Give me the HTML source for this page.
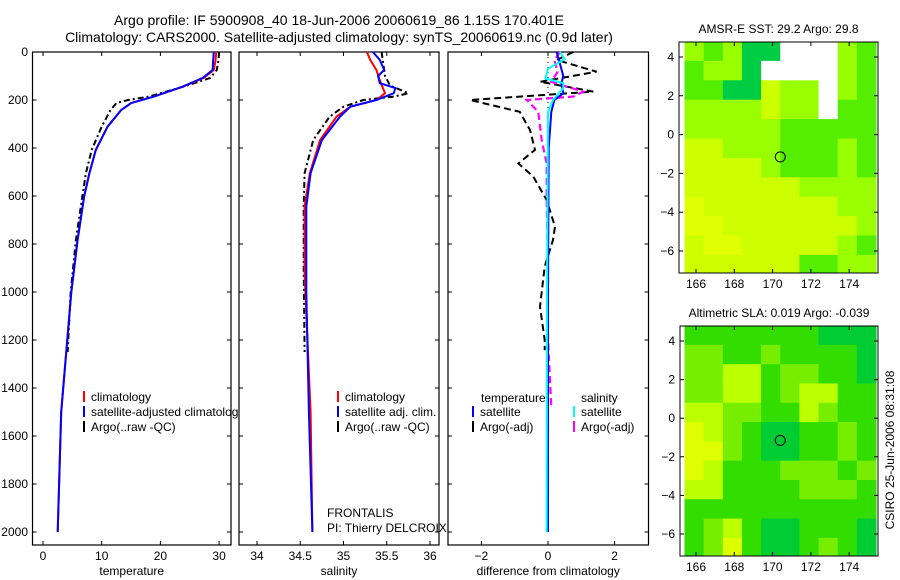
<!DOCTYPE html>
<html><head><meta charset="utf-8"><style>
html,body{margin:0;padding:0;background:#fff;}
svg{display:block;font-family:"Liberation Sans",sans-serif;}
</style></head><body>
<svg id="fig" width="900" height="580" viewBox="0 0 900 580" xmlns="http://www.w3.org/2000/svg">
<rect width="900" height="580" fill="#fff"/>
<text x="339" y="25" font-size="14" text-anchor="middle">Argo profile: IF 5900908_40 18-Jun-2006 20060619_86 1.15S 170.401E</text>
<text x="339" y="42" font-size="14" text-anchor="middle">Climatology: CARS2000. Satellite-adjusted climatology: synTS_20060619.nc (0.9d later)</text>
<g id="g1"></g>
<g id="g2"></g>
<g id="g3"></g>
<g id="m1"></g>
<g id="m2"></g>
<text transform="translate(894,450) rotate(-90)" font-size="12" text-anchor="middle">CSIRO 25-Jun-2006 08:31:08</text>
</svg>
<script>
// ---- data ----
const tempClimDepth = [0,33,75,108,144,186,213,242,311,408,505,603,783,1005,1500,2000];
const tempClim      = [29.5,29.4,29.1,27.4,23.9,18.9,15.0,13.3,11.0,9.0,7.9,7.0,5.9,4.8,3.1,2.5];
const tempSatDepth  = [0,33,75,108,144,186,213,242,311,408,505,603,783,1005,1500,2000];
const tempSat       = [29.1,29.0,28.9,27.2,23.8,18.9,15.0,13.3,11.0,9.0,7.9,7.0,5.9,4.8,3.1,2.5];
const tempArgoDepth = [0,33,75,108,144,186,200,213,242,311,408,505,603,783,1005,1250];
const tempArgo      = [30.0,29.9,29.6,28.5,24.0,18.0,14.5,12.5,11.5,10.0,8.3,7.3,6.7,5.6,4.7,4.2];
const salDepth      = [0,33,75,117,172,200,228,269,367,505,644,922,1500,2000];
const salClim       = [35.27,35.31,35.38,35.42,35.48,35.38,35.08,34.92,34.73,34.61,34.55,34.55,34.62,34.64];
const salSatDepth   = [0,33,75,100,130,150,172,200,228,269,367,505,644,1000,1500,2000];
const salSat        = [35.34,35.42,35.47,35.40,35.42,35.60,35.58,35.38,35.08,34.96,34.75,34.62,34.57,34.57,34.60,34.64];
const salArgoDepth  = [0,50,100,140,172,186,200,228,269,367,505,644,900,1250];
const salArgo       = [35.44,35.46,35.48,35.54,35.75,35.58,35.23,35.00,34.84,34.65,34.55,34.54,34.54,34.55];
const dTempArgoDepth= [0,33,82,124,165,200,249,325,408,464,519,617,728,783,894,1061,1200,1242];
const dTempArgo     = [0.76,0.26,1.46,-0.24,1.36,-2.34,-0.85,-0.54,-0.39,-0.89,-0.44,-0.04,0.21,0.15,-0.10,-0.24,-0.10,-0.10];
const dSalArgoDepth = [0,33,82,124,165,186,200,249,367,464,617,900,1200,1480];
const dSalArgo      = [0.36,0.19,0.29,0.10,1.06,0.76,-0.64,-0.29,-0.19,-0.04,-0.04,0.0,0.0,0.1];
const dTempSatDepth = [0,50,100,130,172,200,250,400,1000,2000];
const dTempSat      = [0.26,0.36,0.46,0.40,0.46,0.19,0.10,0.02,0.0,0.0];
const dSalSatDepth  = [0,30,70,110,130,150,200,250,1000,2000];
const dSalSat       = [0.36,0.50,0.0,-0.08,0.46,0.46,0.15,0.0,-0.03,-0.04];
const depthTicks = [0,200,400,600,800,1000,1200,1400,1600,1800,2000];
const tempTicks = [0,10,20,30];
const salTicks = [34,34.5,35,35.5,36];
const diffTicks = [-2,0,2];
const lonTicks = [166,168,170,172,174];
const latTicks = [4,2,0,-2,-4,-6];
const sstGrid = ["bcbddwwwbc","cbbdwwwwbc","ccddabbwbc","bbbbabbwcc","bbbbbccccc","aabbbcccbc","aaaabcccbc","aaaaaabbbb","yaaaaaaabb","yyaaaaaaab","ayyaaaaabc","aaaaaaccbb"];
const slaGrid = ["GGGGGGGAAA","LLGGLGGGGA","LLYYGLLGGA","LLYYGLYYGG","YYLLGGYLGG","ZYLGAAGGLG","ZZLGAAGGLG","ZYGGGLLLGL","YYGGGGLLLG","GGGGGGGGGG","GLYGAAGGGA","GLZGAAGLGA"];
const argoLon = 170.4, argoLat = -1.15;

// ---- helpers ----
const NS="http://www.w3.org/2000/svg";
function mk(tag, parent){const e=document.createElementNS(NS,tag);parent.appendChild(e);return e;}
const TOP=52, BOT=545, DPX=48/200;
const yD = d => TOP + d*DPX;

function panel(gid, x0, x1, xs, ticks, fmt, label){
  const g=document.getElementById(gid);
  const r=mk('rect',g);
  
  
  r.setAttribute('x',x0);r.setAttribute('y',TOP);r.setAttribute('width',x1-x0);r.setAttribute('height',BOT-TOP);
  r.setAttribute('fill','#fff');r.setAttribute('stroke','#000');r.setAttribute('stroke-width','1.2');
  depthTicks.forEach(d=>{
    const y=yD(d);
    const t=mk('path',g);
    
    
    t.setAttribute('d',`M${x0},${y}h4M${x1},${y}h-4`);t.setAttribute('stroke','#000');
  });
  ticks.forEach(v=>{
    const x=xs(v);
    const t=mk('path',g);
    
    
    t.setAttribute('d',`M${x},${TOP}v4M${x},${BOT}v-4`);t.setAttribute('stroke','#000');
    const tx=mk('text',g);
    
    
    tx.setAttribute('x',x);tx.setAttribute('y',BOT+15);tx.setAttribute('font-size','12');tx.setAttribute('text-anchor','middle');
    tx.textContent=fmt(v);
  });
  const l=mk('text',g);
  
  
  l.setAttribute('x',(x0+x1)/2);l.setAttribute('y',BOT+30);l.setAttribute('font-size','12');l.setAttribute('text-anchor','middle');
  l.textContent=label;
  return g;
}
function line(g, xs, vals, depths, color, dash, w, name){
  const p=mk('path',g);
  
  
  p.setAttribute('d',vals.map((v,i)=>(i?'L':'M')+xs(v).toFixed(1)+','+yD(depths[i]).toFixed(1)).join(''));
  p.setAttribute('fill','none');p.setAttribute('stroke',color);p.setAttribute('stroke-width',w);
  if(dash)p.setAttribute('stroke-dasharray',dash);
}
function legend(g, x, y, color, text){
  if(color){
    const m=mk('rect',g);
    
    
    m.setAttribute('x',x);m.setAttribute('y',y-10);m.setAttribute('width',2);m.setAttribute('height',11);m.setAttribute('fill',color);
  }
  const t=mk('text',g);
  
  
  t.setAttribute('x',x+(color?8:0));t.setAttribute('y',y);t.setAttribute('font-size','12');
  t.textContent=text;
}

// ---- temperature panel ----
const xT = v => 43 + v*5.87;
const g1=panel('g1',32.5,231,xT,tempTicks,v=>String(v),'temperature');
depthTicks.forEach(d=>{
  const t=mk('text',g1);
  
  
  t.setAttribute('x',28);t.setAttribute('y',yD(d)+4);t.setAttribute('font-size','12');t.setAttribute('text-anchor','end');
  t.textContent=d;
});
line(g1,xT,tempArgo,tempArgoDepth,'#000','6 3 2 3',2,'temp-argo-line');
line(g1,xT,tempClim,tempClimDepth,'#f00','',2,'temp-climatology-line');
line(g1,xT,tempSat,tempSatDepth,'#00f','',2,'temp-satellite-line');
legend(g1,83,401,'#f00','climatology');
legend(g1,83,416,'#00f','satellite-adjusted climatology');
legend(g1,83,431,'#000','Argo(..raw -QC)');

// ---- salinity panel ----
const xS = v => 257 + (v-34)*86.5;
const g2=panel('g2',239,439,xS,salTicks,v=>String(v),'salinity');
line(g2,xS,salArgo,salArgoDepth,'#000','6 3 2 3',2,'sal-argo-line');
line(g2,xS,salClim,salDepth,'#f00','',2,'sal-climatology-line');
line(g2,xS,salSat,salSatDepth,'#00f','',2,'sal-satellite-line');
legend(g2,337,401,'#f00','climatology');
legend(g2,337,416,'#00f','satellite adj. clim.');
legend(g2,337,431,'#000','Argo(..raw -QC)');
legend(g2,327,517,null,'FRONTALIS');
legend(g2,327,532,null,'PI: Thierry DELCROIX');

// ---- difference panel ----
const xF = v => 548 + v*33.3;
const g3=panel('g3',448,648.5,xF,diffTicks,v=>v<0?'\u2212'+(-v):String(v),'difference from climatology');
const z=mk('path',g3);


z.setAttribute('d',`M${xF(0)},${TOP}V${yD(1990)}`);z.setAttribute('stroke','#000');z.setAttribute('stroke-dasharray','1 4');
line(g3,xF,dTempArgo,dTempArgoDepth,'#000','7 4',2,'diff-temp-argo-line');
line(g3,xF,dSalArgo,dSalArgoDepth,'#f0f','7 4',2.2,'diff-sal-argo-line');
line(g3,xF,dTempSat,dTempSatDepth,'#00f','',2,'diff-temp-satellite-line');
line(g3,xF,dSalSat,dSalSatDepth,'#0ff','',2,'diff-sal-satellite-line');
legend(g3,481,402,null,'temperature');
legend(g3,472,416,'#00f','satellite');
legend(g3,472,431,'#000','Argo(-adj)');
legend(g3,581,402,null,'salinity');
legend(g3,573,416,'#0ff','satellite');
legend(g3,573,431,'#f0f','Argo(-adj)');

// ---- maps ----
const COL={w:'#ffffff',a:'#ccff00',b:'#99ff00',c:'#55ee00',d:'#00cc44',y:'#e0ff00',
           G:'#33dd00',L:'#77ee00',Y:'#bbff00',Z:'#ddff00',A:'#00cc33'};
function map(gid, x0, y0, x1, y1, lat4y, latm6y, grid, title){
  const g=document.getElementById(gid);
  const lx = lon => 696 + (lon-166)*19.15;
  const ly = lat => lat4y + (4-lat)*(latm6y-lat4y)/10;
  const lon0=165.4, lat0=4.8;
  grid.forEach((row,ri)=>{
    [...row].forEach((ch,ci)=>{
      const c=mk('rect',g);
      
      
      const xa=Math.max(x0,lx(lon0+ci)), xb=Math.min(x1,lx(lon0+ci+1));
      const ya=Math.max(y0,ly(lat0-ri)), yb=Math.min(y1,ly(lat0-ri-1));
      c.setAttribute('x',xa);c.setAttribute('y',ya);c.setAttribute('width',Math.max(0,xb-xa)+0.5);c.setAttribute('height',Math.max(0,yb-ya)+0.5);
      c.setAttribute('fill',COL[ch]);
    });
  });
  const b=mk('rect',g);
  
  
  b.setAttribute('x',x0);b.setAttribute('y',y0);b.setAttribute('width',x1-x0);b.setAttribute('height',y1-y0);
  b.setAttribute('fill','none');b.setAttribute('stroke','#000');
  lonTicks.forEach(v=>{
    const t=mk('path',g);
    
    
    t.setAttribute('d',`M${lx(v)},${y0}v4M${lx(v)},${y1}v-4`);t.setAttribute('stroke','#000');
    const tx=mk('text',g);
    
    
    tx.setAttribute('x',lx(v));tx.setAttribute('y',y1+15);tx.setAttribute('font-size','12');tx.setAttribute('text-anchor','middle');
    tx.textContent=v;
  });
  latTicks.forEach(v=>{
    const t=mk('path',g);
    
    
    t.setAttribute('d',`M${x0},${ly(v)}h4M${x1},${ly(v)}h-4`);t.setAttribute('stroke','#000');
    const tx=mk('text',g);
    
    
    tx.setAttribute('x',x0-5);tx.setAttribute('y',ly(v)+4);tx.setAttribute('font-size','12');tx.setAttribute('text-anchor','end');
    tx.textContent=v<0?'\u2212'+(-v):v;
  });
  const c=mk('circle',g);
  
  
  c.setAttribute('cx',lx(argoLon));c.setAttribute('cy',ly(argoLat));c.setAttribute('r',5);
  c.setAttribute('fill','none');c.setAttribute('stroke','#000');
  const tt=mk('text',g);
  
  
  tt.setAttribute('x',(x0+x1)/2);tt.setAttribute('y',y0-9);tt.setAttribute('font-size','12');tt.setAttribute('text-anchor','middle');
  tt.textContent=title;
}
map('m1',679,42,878,273,57,251,sstGrid,'AMSR-E SST: 29.2 Argo: 29.8');
map('m2',680,326,878,556,341,534,slaGrid,'Altimetric SLA: 0.019 Argo: -0.039');
</script>
</body></html>
